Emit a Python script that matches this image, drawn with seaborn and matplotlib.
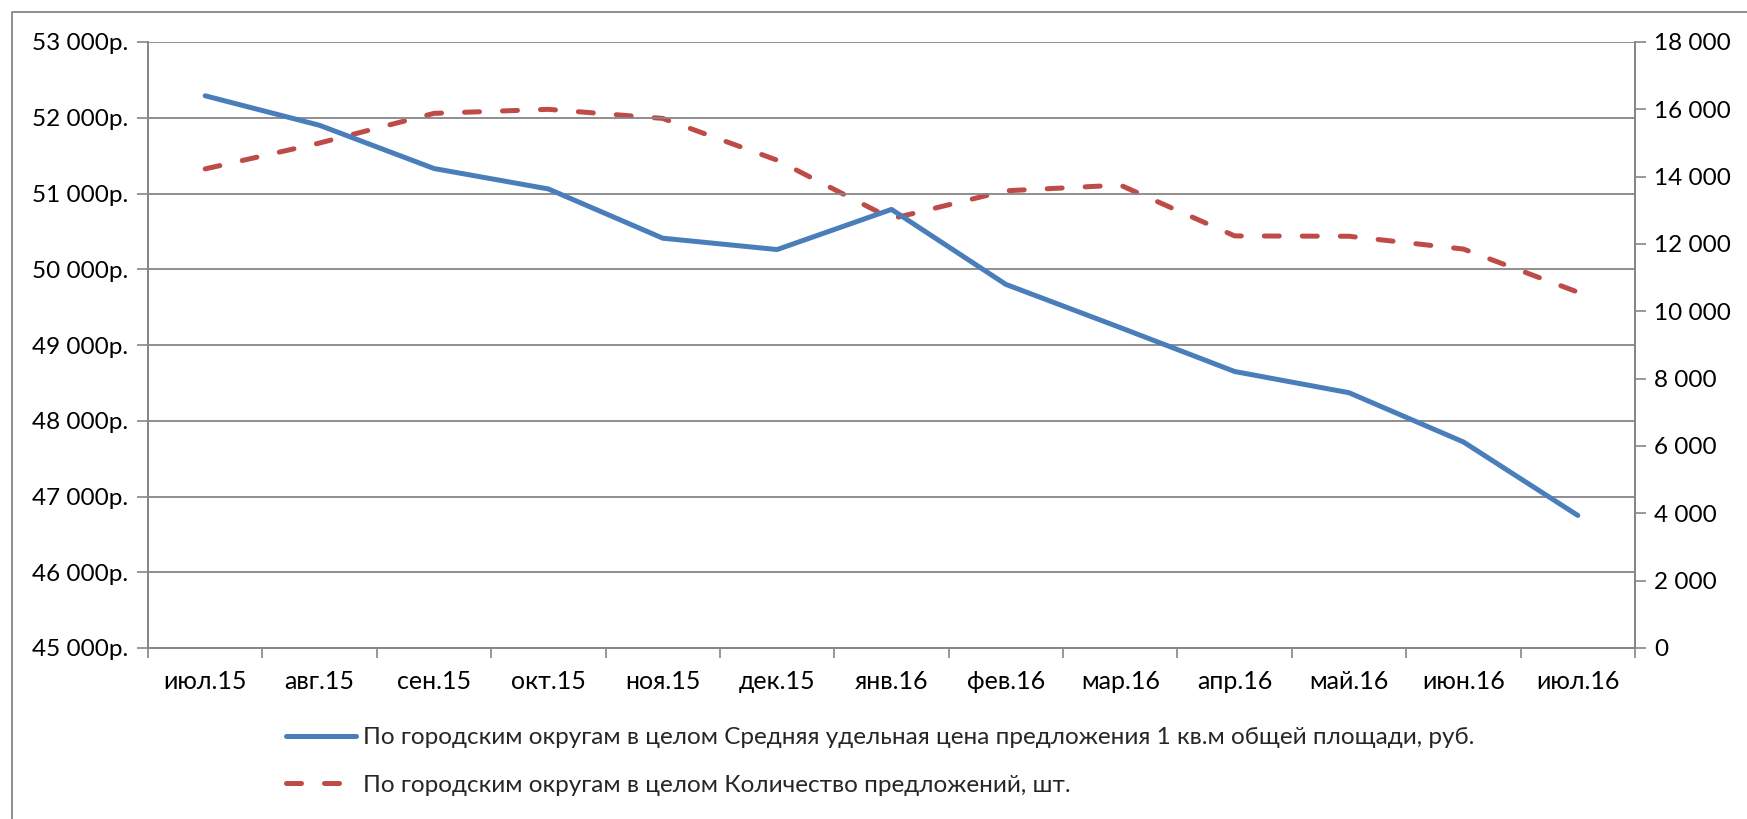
import numpy as np
import pandas as pd
import matplotlib
matplotlib.use("Agg")
import matplotlib.pyplot as plt
from matplotlib.ticker import FuncFormatter, FixedLocator
from matplotlib.lines import Line2D
import seaborn as sns

months = ["июл.15", "авг.15", "сен.15", "окт.15", "ноя.15", "дек.15", "янв.16",
          "фев.16", "мар.16", "апр.16", "май.16", "июн.16", "июл.16"]
price = [52290, 51900, 51330, 51060, 50410, 50260, 50790, 49800, 49230, 48650, 48370, 47720, 46750]
count = [14230, 15000, 15880, 16000, 15730, 14490, 12750, 13580, 13750, 12240, 12230, 11850, 10570]
label_price = "По городским округам в целом Средняя удельная цена предложения 1 кв.м общей площади, руб."
label_count = "По городским округам в целом Количество предложений, шт."

sns.set_theme(style="white")
plt.rcParams['font.family'] = ['Lato', 'DejaVu Sans']

W, H = 1747, 819
fig = plt.figure(figsize=(W / 100, H / 100), dpi=100)
L, R, T, B = 148, 1635, 42, 648
ax = fig.add_axes([L / W, 1 - B / H, (R - L) / W, (B - T) / H])
ax2 = ax.twinx()

df = pd.DataFrame({"idx": np.arange(len(months)), "month": months, "price": price, "count": count})

grey = "#868686"
blue = "#4A7EBB"
red = "#BE4B48"
fs = 17.5

sns.lineplot(data=df, x="idx", y="price", ax=ax, color=blue, lw=3.6,
             solid_capstyle="round", solid_joinstyle="round", label=label_price, legend=False)
sns.lineplot(data=df, x="idx", y="count", ax=ax2, color=red, lw=3.6,
             dashes=False, label=label_count, legend=False)
ln = ax2.get_lines()[0]
ln.set_linestyle((0, (3.0, 4.6)))
ln.set_dash_capstyle("round")

ax.set_xlim(-0.5, len(months) - 0.5)
ax.set_ylim(45000, 53000)
ax2.set_ylim(0, 18000)
ax.set_yticks(np.arange(45000, 53001, 1000))
ax2.set_yticks(np.arange(0, 18001, 2000))
ax.yaxis.set_major_formatter(FuncFormatter(lambda v, p: f"{int(v):,}".replace(",", " ") + "р."))
ax2.yaxis.set_major_formatter(FuncFormatter(lambda v, p: f"{int(v):,}".replace(",", " ")))

ax.set_xticks(np.arange(len(months)))
ax.set_xticklabels(months)
ax.xaxis.set_minor_locator(FixedLocator(np.arange(-0.5, len(months), 1.0)))
ax.tick_params(axis="x", which="major", length=0, pad=16, labelsize=fs + 0.5, colors="black")
ax.tick_params(axis="x", which="minor", length=7, width=1.2, color=grey, direction="out", bottom=True)
ax.tick_params(axis="y", length=8, width=1.2, color=grey, direction="out", left=True, pad=6,
               labelsize=fs, labelcolor="black")
ax2.tick_params(axis="y", length=8, width=1.2, color=grey, direction="out", right=True, pad=6,
                labelsize=fs, labelcolor="black")

ax.set_xlabel("")
ax.set_ylabel("")
ax2.set_ylabel("")
ax.grid(axis="y", color=grey, lw=1.3)
ax.grid(axis="x", visible=False)
ax2.grid(False)
for a in (ax, ax2):
    a.spines["top"].set_visible(False)
    for s in ("left", "right", "bottom"):
        a.spines[s].set_color(grey)
        a.spines[s].set_linewidth(1.3)
ax.set_zorder(ax2.get_zorder() + 1)
ax.patch.set_visible(False)

h1 = ax.get_lines()[0]
h2 = ax2.get_lines()[0]
fig.legend([h1, h2], [label_price, label_count], loc="upper left",
           bbox_to_anchor=(286 / W, 1 - 727 / H), frameon=False, fontsize=fs,
           handlelength=2.88, handletextpad=0.28, labelspacing=1.1, borderpad=0, borderaxespad=0)

fig.add_artist(Line2D([12 / W, 12 / W, 1.0], [0.0, 1 - 12 / H, 1 - 12 / H],
                      color=grey, lw=1.3, transform=fig.transFigure))

fig.savefig("out.png", dpi=100)
